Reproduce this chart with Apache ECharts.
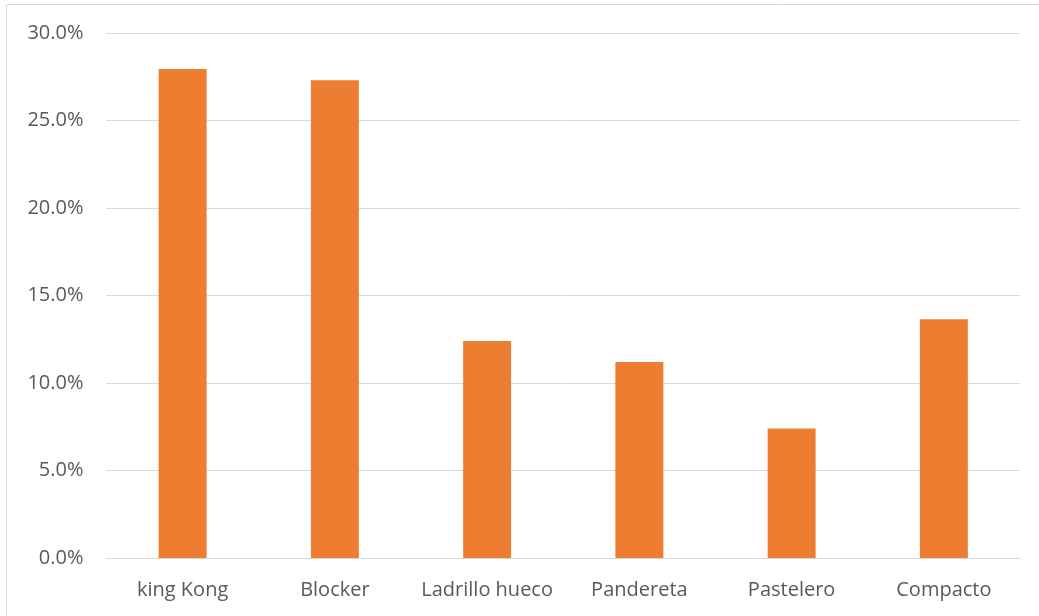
<!DOCTYPE html>
<html>
<head>
<meta charset="utf-8">
<script src="https://cdn.jsdelivr.net/npm/echarts@6/dist/echarts.min.js"></script>
<style>
  html, body { margin: 0; padding: 0; background: #ffffff; }
  #chart { width: 1039px; height: 616px; }
</style>
</head>
<body>
<div id="chart"></div>
<script>
// Share of each brick type (percent)
const categories = ['king Kong', 'Blocker', 'Ladrillo hueco', 'Pandereta', 'Pastelero', 'Compacto'];
const shares = [27.95, 27.3, 12.4, 11.2, 7.4, 13.65];
const yMin = 0;
const yMax = 30;
const yStep = 5;

const textColor = '#595959';
const fontFamily = '"Open Sans", "Liberation Sans", sans-serif';

const chart = echarts.init(document.getElementById('chart'), null, { renderer: 'canvas' });

chart.setOption({
  backgroundColor: '#ffffff',
  animation: false,
  graphic: [{
    type: 'rect',
    shape: { x: 6.5, y: 4.5, width: 1060, height: 640 },
    style: { fill: 'none', stroke: '#d9d9d9', lineWidth: 1 },
    silent: true,
    z: -1
  }],
  grid: { left: 106.5, right: 19, top: 33, bottom: 58, containLabel: false },
  xAxis: {
    type: 'category',
    data: categories,
    axisLine: { lineStyle: { color: '#d9d9d9', width: 1 } },
    axisTick: { show: false },
    axisLabel: { color: textColor, fontFamily, fontSize: 20, margin: 22, interval: 0 }
  },
  yAxis: {
    type: 'value',
    min: yMin,
    max: yMax,
    interval: yStep,
    axisLine: { show: false },
    axisTick: { show: false },
    splitLine: { lineStyle: { color: '#d9d9d9', width: 1 } },
    axisLabel: {
      color: textColor, fontFamily, fontSize: 20, margin: 23,
      formatter: v => v.toFixed(1) + '%'
    }
  },
  series: [{
    type: 'bar',
    data: shares,
    barWidth: '31.5%',
    itemStyle: { color: '#ed7d31' }
  }]
});
</script>
</body>
</html>
